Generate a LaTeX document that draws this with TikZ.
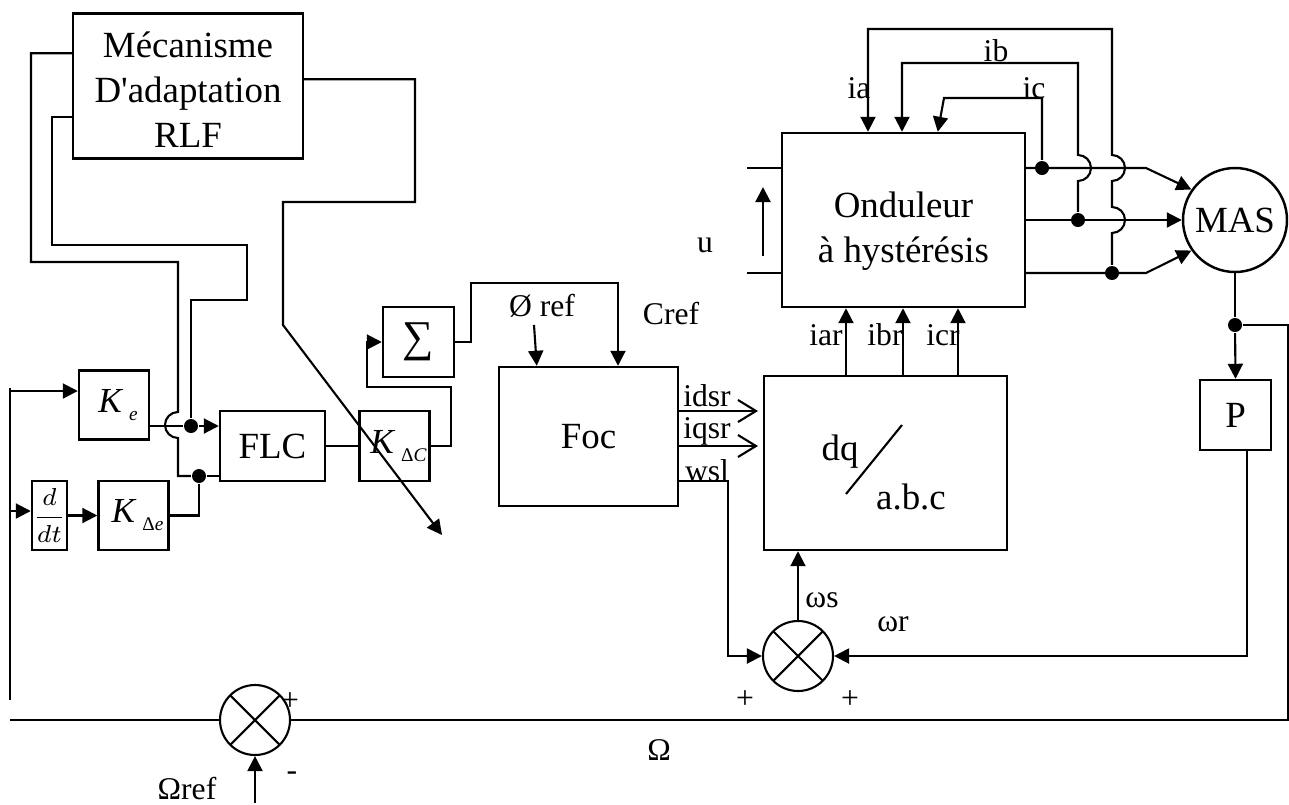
\documentclass[tikz,border=0pt]{standalone}
\usepackage{amsmath}
\usepackage{fontspec}
\setmainfont{Liberation Serif}
\usetikzlibrary{calc, positioning}
\usetikzlibrary{arrows.meta}

\newcommand{\bigtxt}{\fontsize{10.5}{12.8}\selectfont}
\newcommand{\smalltxt}{\fontsize{9}{10}\selectfont}
\newcommand{\gaintxt}{\fontsize{10}{11}\selectfont}
\newcommand{\gainK}[1]{\hspace{0.8mm}\textit{K}\,\raisebox{-0.8mm}{\fontsize{5.5}{6}\selectfont#1}}

\begin{document}
\begin{tikzpicture}[x=0.1mm, y=-0.1mm, line width=0.6pt,
  blk/.style={draw, line width=0.7pt, inner sep=0pt, font=\bigtxt, align=center},
  gain/.style={blk, minimum width=7mm, minimum height=6.9mm, font=\gaintxt},
  sumx/.style={draw, circle, minimum size=7mm, inner sep=0pt, path picture={
      \draw (path picture bounding box.north east) -- (path picture bounding box.south west)
            (path picture bounding box.north west) -- (path picture bounding box.south east);}},
  jdot/.style={circle, fill, inner sep=0pt, minimum size=1.4mm},
  arr/.style={-{Triangle[length=1.5mm, width=1.5mm]}},
  oarr/.style={-{Straight Barb[length=1.8mm, width=2.2mm]}},
  lbl/.style={font=\smalltxt, inner sep=0pt}]
\useasboundingbox (0,0) rectangle (1289,804);

% blocks
\node[blk, minimum width=23mm, minimum height=14.5mm] (mech) at (188,86) {};
\node[font=\bigtxt, align=center] (mecht) at (188,90) {Mécanisme\\D\textquotesingle adaptation\\RLF};
\node[gain] (Ke) at (114,405) {\gainK{\textit{e}}};
\node[blk, minimum width=3.5mm, minimum height=6.9mm] (ddt) at (49.5,515.5) {\fontsize{7.5}{9}\selectfont$\dfrac{d}{dt}$};
\node[gain] (Kde) at (133.5,515.5) {\gainK{Δ\textit{e}}};
\node[blk, minimum width=10.5mm, minimum height=7mm] (FLC) at (272.5,446) {FLC};
\node[gain, minimum height=7mm] (KdC) at (394.5,446) {\gainK{Δ\textit{C}}};
\node[blk, minimum width=7.1mm, minimum height=7mm, font=\fontsize{12.5}{13}\selectfont] (sig) at (418.5,342) {∑};
\node[blk, minimum width=17.9mm, minimum height=13.9mm] (foc) at (588.5,436.5) {Foc};
\node[blk, minimum width=24.3mm, minimum height=17.4mm] (dq) at (885.5,463) {};
\node[blk, minimum width=24.3mm, minimum height=17.4mm] (ond) at (903.5,220) {};
\node[font=\bigtxt, align=center] (ondt) at (903.5,231) {Onduleur\\à hystérésis};
\node[blk, circle, minimum size=10.4mm] (mas) at (1235,220) {MAS};
\node[blk, minimum width=7.1mm, minimum height=7mm] (P) at (1235.5,415) {P};
\node[sumx] (sumw) at (798,656) {};
\node[sumx] (sumO) at (255,720) {};

% dq / abc label
\node[font=\bigtxt] (dqt) at (840,452) {dq};
\node[font=\bigtxt] (abct) at (911,497) {a.b.c};
\draw (846,494) -- (902,425);

% junctions
\node[jdot] (j1) at (191,426) {};
\node[jdot] (j2) at (199,476) {};
\node[jdot] (jc) at (1042,168) {};
\node[jdot] (jb) at (1078,220) {};
\node[jdot] (ja) at (1112,273) {};
\node[jdot] (jm) at (1235,325) {};

% error signal
\coordinate (eup) at (10,388);
\coordinate (elo) at (10,700);
\coordinate (eO) at (10,720);
\draw (elo) -- (eup);
\draw (sumO.west) -- (eO);
\coordinate (eKe) at (10,391);
\draw[arr] (eKe) -- (eKe -| Ke.west);
\coordinate (eddt) at (10,511);
\draw[arr] (eddt) -- (eddt -| ddt.west);
\draw[arr] (ddt) -- (Kde);

% controller inputs
\draw (j1 -| Ke.east) -- (j1);
\draw[arr] (j1) -- (j1 -| FLC.west);
\draw (Kde.east) -| (j2);
\draw (j2) -- (j2 -| FLC.west);
\draw (FLC) -- (KdC);

% adaptation wires
\draw ($(mech.north west)+(0,41)$) -| (31,262) -| (178,412)
      arc[start angle=90, end angle=270, radius=1.3mm] -- (178,476) -- (j2);
\draw ($(mech.north west)+(0,105)$) -| (52,245) -- (247,245) |- (191,300) -- (j1);
\coordinate (adapt) at (442,535);
\draw[arr] ($(mech.north east)+(0,67)$) -| (415,202) -| (283,325) -- (adapt);

% sigma loop and references
\draw[arr] (KdC.east) -| (451,387) -| (367,342) -- (sig.west);
\coordinate (cr) at (618,283);
\draw[arr] (sig.east) -| (471,283) -- (cr) -- (cr |- foc.north);
\coordinate (phi) at (534,325);
\draw[arr] (phi) -- ($(foc.north west)+(39,0)$);

% Foc outputs
\coordinate (idt) at (758,411);
\coordinate (iqt) at (758,446);
\draw[oarr] (idt -| foc.east) -- (idt);
\draw[oarr] (iqt -| foc.east) -- (iqt);
\coordinate (wsl) at (728,481);
\draw[arr] (wsl -| foc.east) -- (wsl) |- (sumw.west);

% reference currents
\foreach \xx in {846,903,958}
  \draw[arr] (\xx,0 |- dq.north) -- (\xx,0 |- ond.south);

% slip and rotor speed
\draw[arr] (sumw.north) -- (sumw.north |- dq.south);
\coordinate (wr) at (1247,656);
\draw[arr] (wr |- P.south) -- (wr) -- (sumw.east);

% speed loop
\draw (mas.south) -- (jm);
\draw[arr] (jm) -- (P.north);
\coordinate (rc) at (1288,720);
\draw (jm) -| (rc) -- (sumO.east);
\coordinate (Oref) at (255,803);
\draw[arr] (Oref) -- (sumO.south);

% inverter DC input
\coordinate (ua) at (747,168);
\coordinate (ub) at (747,273);
\draw (ua) -- (ua -| ond.west);
\draw (ub) -- (ub -| ond.west);
\coordinate (ut) at (763,187);
\coordinate (ubot) at (763,256);
\draw[arr] (ubot) -- (ut);

% three-phase lines
\coordinate (pa) at (1146,168);
\coordinate (pc) at (1146,273);
\draw[arr] (pa -| ond.east) -- (pa) -- (mas.145);
\draw[arr] (ond.east) -- (mas.west);
\draw[arr] (pc -| ond.east) -- (pc) -- (mas.215);

% measured currents
\draw[arr] (jc) |- (944,98) -- ($(ond.north west)+(157,0)$);
\draw[arr] (jb) -- (1078,181) arc[start angle=-90, end angle=90, radius=1.3mm]
      |- (902,63) -- (902,0 |- ond.north);
\draw[arr] (ja) -- (1112,233) arc[start angle=-90, end angle=90, radius=1.3mm]
      -- (1112,181) arc[start angle=-90, end angle=90, radius=1.3mm]
      |- (868,29) -- (868,0 |- ond.north);

% labels
\node[lbl] (lia) at (859,88) {ia};
\node[lbl] (lib) at (996,51) {ib};
\node[lbl] (lic) at (1034,88) {ic};
\node[lbl] (lu) at (705,245) {u};
\node[lbl] (lphi) at (542,306) {Ø ref};
\node[lbl] (lcref) at (671,314) {Cref};
\node[lbl, anchor=base] (lid) at (707,406) {idsr};
\node[lbl, anchor=base] (liq) at (707,438) {iqsr};
\node[lbl, anchor=base] (lwsl) at (707,481) {wsl};
\node[lbl] (liar) at (826,335) {iar};
\node[lbl] (libr) at (885,335) {ibr};
\node[lbl] (licr) at (943,335) {icr};
\node[lbl] (lws) at (822,600) {ωs};
\node[lbl] (lwr) at (893,624) {ωr};
\node[lbl] (lp1) at (745,700) {+};
\node[lbl] (lp2) at (850,700) {+};
\node[lbl] (lp3) at (290,702) {+};
\node[lbl] (lm) at (292,776) {-};
\node[lbl] (lOref) at (187,789) {Ωref};
\node[lbl] (lO) at (659,750) {Ω};
\end{tikzpicture}
\end{document}
